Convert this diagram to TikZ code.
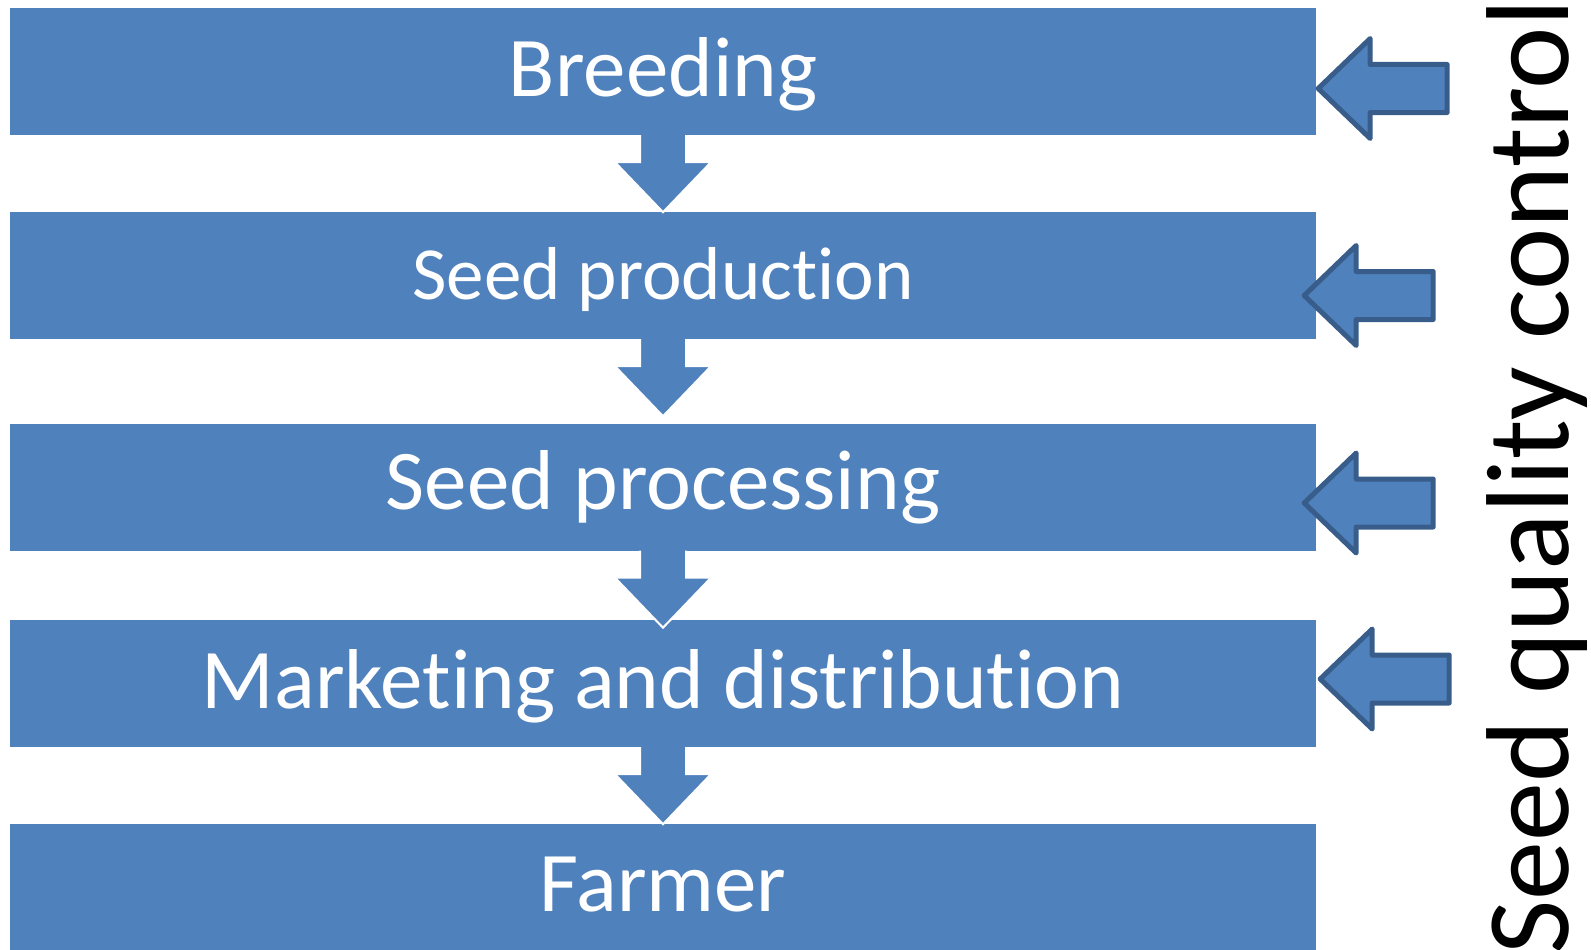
\documentclass[tikz,border=0pt]{standalone}
\usepackage{fontspec}
\setmainfont{Carlito}[Ligatures=NoCommon, RawFeature={-liga}]
\usetikzlibrary{calc}
\definecolor{officeblue}{HTML}{4F81BD}
\definecolor{officeedge}{HTML}{385D8A}
\tikzset{
  flowbox/.style={fill=officeblue, draw=none, minimum width=1306pt, minimum height=127pt,
    inner sep=0pt, text=white, font=\fontsize{85}{100}\selectfont, text height=49pt, text depth=0pt},
  dnarrow/.style={fill=officeblue, draw=white, line width=2pt, line join=miter},
  qcarrowstyle/.style={fill=officeblue, draw=officeedge, line width=5pt, line join=round},
  sidelabel/.style={font=\fontsize{118}{130}\selectfont, text=black, rotate=90, anchor=base, inner sep=0pt}
}
\newcommand\flowdown[1]{%
  \filldraw[dnarrow] ($(#1.south)+(-23,0)$) -- ++(0,27) -- ++(-25,0) -- ++(48,50)
    -- ++(48,-50) -- ++(-25,0) -- ++(0,-27);}
\newcommand\qualityin[4]{% target node, dx, dy, name
  \coordinate (#4) at ($(#1.east)+(#2,#3)$);
  \filldraw[qcarrowstyle] (#4) -- ++(52,-50) -- ++(0,26) -- ++(77,0) -- ++(0,48)
    -- ++(-77,0) -- ++(0,26) -- cycle;}
\begin{document}
\begin{tikzpicture}[x=1pt,y=-1pt]
\useasboundingbox (0,0) rectangle (1591,950);
\begin{scope}
\clip (0,0) rectangle (1591,950);
\node[flowbox] (b1) at (663,71.5) {Breeding};
\node[flowbox, font=\fontsize{75}{90}\selectfont, text height=47pt] (b2) at (663,275.5) {Seed production};
\node[flowbox, text height=44pt] (b3) at (663,487) {Seed processing};
\node[flowbox] (b4) at (663,683.5) {Marketing and distribution};
\node[flowbox] (b5) at (663,887) {Farmer};
\end{scope}
\flowdown{b1}
\flowdown{b2}
\flowdown{b3}
\flowdown{b4}
\qualityin{b1}{2}{17}{q1}
\qualityin{b2}{-12}{20}{q2}
\qualityin{b3}{-12}{16}{q3}
\qualityin{b4}{4}{-4.5}{q4}
\node[sidelabel] (sqc) at (1568,477) {Seed quality control};
\end{tikzpicture}
\end{document}
